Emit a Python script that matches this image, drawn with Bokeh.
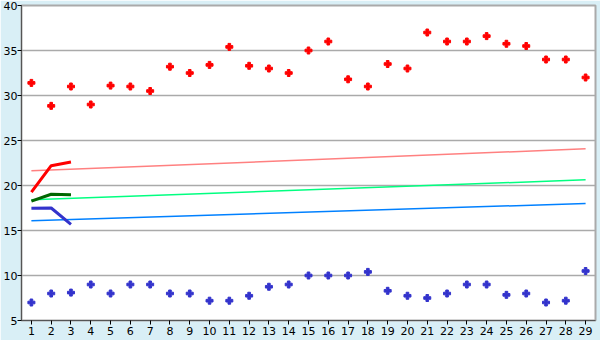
from bokeh.plotting import figure
from bokeh.models import FixedTicker, Range1d
from bokeh.embed import file_html
from bokeh.resources import INLINE

days = list(range(1, 30))
upper = [31.4, 28.85, 31.0, 29.0, 31.1, 31.0, 30.5, 33.2, 32.5, 33.4,
         35.4, 33.3, 33.0, 32.5, 35.0, 36.0, 31.8, 31.0, 33.5, 33.0,
         37.0, 36.0, 36.0, 36.6, 35.75, 35.5, 34.0, 34.0, 32.0]
lower = [7.0, 8.0, 8.1, 9.0, 8.0, 9.0, 9.0, 8.0, 8.0, 7.2,
         7.2, 7.75, 8.75, 9.0, 10.0, 10.0, 10.0, 10.4, 8.3, 7.75,
         7.5, 8.0, 9.0, 9.0, 7.85, 8.0, 7.0, 7.2, 10.5]

trend_x = [1, 29]
trend_red = [21.63, 24.07]
trend_green = [18.41, 20.63]
trend_blue = [16.08, 18.0]

short_x = [1, 2, 3]
short_red = [19.26, 22.2, 22.6]
short_green = [18.26, 19.03, 18.96]
short_blue = [17.48, 17.5, 15.67]

y_ticks = [5, 10, 15, 20, 25, 30, 35, 40]

p = figure(width=600, height=340, output_backend="svg", toolbar_location=None,
           x_range=Range1d(0.5, 29.5), y_range=Range1d(5, 40),
           min_border_left=20, min_border_right=5, min_border_top=5,
           min_border_bottom=20)
p.border_fill_color = "#D9EFF6"
p.background_fill_color = "white"
p.outline_line_color = "#AAAAAA"
p.outline_line_width = 2

p.xgrid.visible = False
p.ygrid.grid_line_color = "#AAAAAA"
p.ygrid.grid_line_width = 1.5
p.ygrid.ticker = FixedTicker(ticks=y_ticks)

for ax in (p.xaxis[0], p.yaxis[0]):
    ax.major_label_text_font = "DejaVu Sans"
    ax.major_label_text_font_size = "11px"
    ax.major_label_text_color = "black"
    ax.minor_tick_line_color = None
    ax.major_tick_in = 0
    ax.major_tick_out = 4
    ax.major_tick_line_color = "black"
    ax.axis_line_color = "#555555"

p.yaxis.major_label_standoff = 0
p.xaxis.major_label_standoff = 2

p.xaxis.ticker = FixedTicker(ticks=days)
p.yaxis.ticker = FixedTicker(ticks=y_ticks)

p.line(trend_x, trend_red, line_color="#FF8080", line_width=1.5)
p.line(trend_x, trend_green, line_color="#00FF80", line_width=1.5)
p.line(trend_x, trend_blue, line_color="#0080FF", line_width=1.5)

p.line(short_x, short_red, line_color="#FF0000", line_width=3)
p.line(short_x, short_green, line_color="#006600", line_width=3)
p.line(short_x, short_blue, line_color="#3333CC", line_width=3)

p.scatter(days, upper, marker="plus", size=7, color="#FF0000")
p.scatter(days, lower, marker="plus", size=7, color="#3333CC")

open("out.html", "w").write(file_html(p, INLINE))
